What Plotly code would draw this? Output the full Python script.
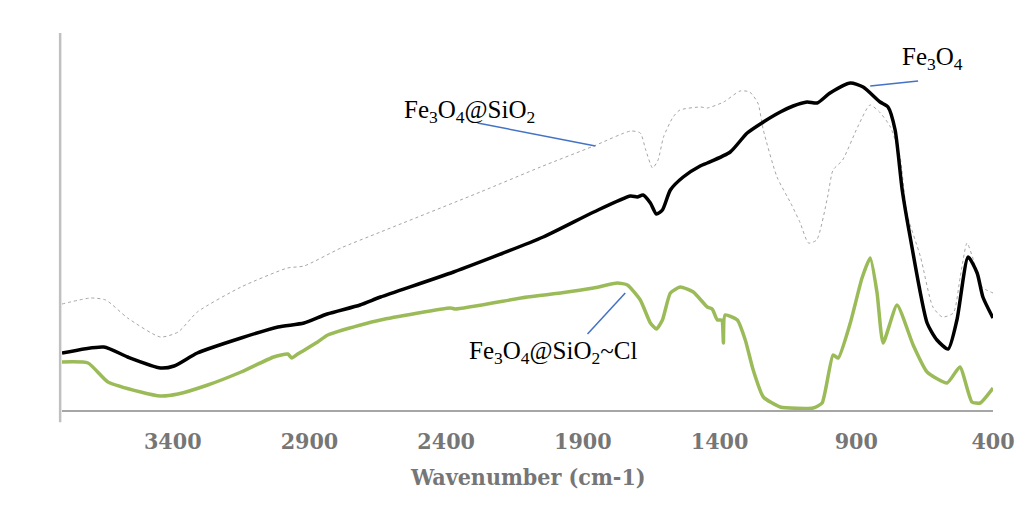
import plotly.graph_objects as go

# ---- data (wavenumber in cm-1, relative transmittance) ----
wn_sio2 = [3805, 3700, 3645, 3565, 3445, 3380, 3310, 3150, 2980, 2920, 2785, 2640, 2275, 2055,
           1860, 1725, 1690, 1670, 1645, 1625, 1605, 1570, 1545, 1470, 1445, 1385, 1325, 1290,
           1260, 1240, 1190, 1140, 1105, 1075, 1045, 1005, 985, 950, 895, 850, 815, 775, 740,
           715, 665, 620, 585, 545, 520, 495, 475, 440, 400]
t_sio2 = [106, 112, 110, 92, 73, 78, 98, 123, 142, 144, 162, 178, 218, 243,
          264, 279, 277, 260, 242, 250, 273, 293, 300, 303, 302, 308, 319, 318,
          307, 280, 233, 207, 187, 167, 170, 213, 240, 250, 283, 305, 298, 283, 253,
          197, 153, 103, 93, 97, 133, 167, 153, 123, 117]

wn_fe3o4 = [3805, 3652, 3565, 3445, 3395, 3310, 3150, 3015, 2920, 2835, 2715, 2640, 2373, 2045,
            1860, 1726, 1701, 1680, 1653, 1631, 1609, 1580, 1533, 1471, 1445, 1361, 1299, 1240,
            1178, 1131, 1080, 1043, 996, 922, 875, 813, 784, 758, 732, 703, 641, 605, 564, 532,
            491, 458, 437, 400]
t_fe3o4 = [57, 63, 53, 42, 44, 57, 72, 83, 87, 96, 105, 113, 138, 173,
           198, 214, 213, 215, 207, 196, 200, 220, 233, 244, 247, 258, 277, 288,
           298, 304, 308, 307, 317, 327, 323, 308, 303, 280, 220, 173, 87, 70, 61, 90,
           153, 137, 113, 92]

wn_cl = [3805, 3710, 3637, 3517, 3445, 3381, 3272, 3150, 3031, 2979, 2965, 2943, 2870, 2833,
         2713, 2640, 2384, 2366, 2103, 1982, 1861, 1774, 1737, 1690, 1653, 1631, 1609, 1580,
         1544, 1496, 1445, 1427, 1408, 1392, 1386, 1380, 1335, 1306, 1277, 1240, 1178, 1058,
         1025, 985, 966, 922, 879, 849, 824, 802, 751, 692, 641, 568, 521, 477, 447, 400]
t_cl = [48, 47, 28, 18, 14, 16, 25, 38, 53, 56, 52, 56, 68, 75,
        85, 90, 102, 101, 113, 117, 122, 127, 125, 110, 87, 81, 90, 117,
        123, 118, 103, 101, 90, 90, 67, 95, 90, 70, 40, 13, 3, 2,
        7, 55, 52, 87, 132, 152, 117, 67, 105, 65, 38, 27, 43, 8, 7, 22]

tick_vals = [3400, 2900, 2400, 1900, 1400, 900, 400]
tick_text = ["3400", "2900", "2400", "1900", "1400", "900", "400"]
x_range = [3805, 400]
y_range = [0, 380]

labels = [
    # text, x (cm-1), y, line start (x, y), line end (x, y)
    ("Fe<sub>3</sub>O<sub>4</sub>@SiO<sub>2</sub>", 2314, 299, (2285, 287), (1854, 264)),
    ("Fe<sub>3</sub>O<sub>4</sub>", 623, 352, (849, 324), (674, 329)),
    ("Fe<sub>3</sub>O<sub>4</sub>@SiO<sub>2</sub>~Cl", 2011, 58, (1883, 76), (1745, 117)),
]

fig = go.Figure()
fig.add_trace(go.Scatter(x=wn_sio2, y=t_sio2, mode="lines", name="Fe3O4@SiO2",
                         line=dict(color="#a6a6a6", width=1, dash="dot", shape="spline", smoothing=0.6)))
fig.add_trace(go.Scatter(x=wn_fe3o4, y=t_fe3o4, mode="lines", name="Fe3O4",
                         line=dict(color="#000000", width=3.5, shape="spline", smoothing=0.6)))
fig.add_trace(go.Scatter(x=wn_cl, y=t_cl, mode="lines", name="Fe3O4@SiO2~Cl",
                         line=dict(color="#9bbb59", width=3.5, shape="spline", smoothing=0.5)))

for text, tx, ty, p0, p1 in labels:
    fig.add_annotation(x=tx, y=ty, text=text, showarrow=False, xanchor="center", yanchor="middle",
                       font=dict(family="Liberation Serif", size=25, color="#000000"))
    fig.add_shape(type="line", x0=p0[0], y0=p0[1], x1=p1[0], y1=p1[1], xref="x", yref="y",
                  line=dict(color="#4472c4", width=1.5))

# vertical axis line (no labels)
fig.add_shape(type="line", xref="paper", yref="paper", x0=-0.002, x1=-0.002, y0=-0.032, y1=0.992,
              line=dict(color="#c0c0c0", width=2.5))

fig.add_annotation(xref="paper", yref="paper", x=0.5, y=-0.176, text="<b>Wavenumber (cm-1)</b>",
                   showarrow=False, xanchor="center", yanchor="middle",
                   font=dict(family="DejaVu Serif Condensed", size=23, color="#767676"))

fig.update_layout(
    width=1026, height=512,
    margin=dict(l=54, r=41, t=22, b=110),
    paper_bgcolor="white", plot_bgcolor="white",
    showlegend=False,
    xaxis=dict(range=x_range, tickvals=tick_vals, ticktext=["<b>%s</b>" % t for t in tick_text],
               showgrid=False, zeroline=False, showline=True, linecolor="#a6a6a6", linewidth=2,
               ticks="", ticklabelstandoff=9,
               tickfont=dict(family="DejaVu Serif Condensed", size=23, color="#767676")),
    yaxis=dict(range=y_range, showgrid=False, zeroline=False, showline=False, showticklabels=False,
               ticks=""),
)

fig.write_html("out.html")
